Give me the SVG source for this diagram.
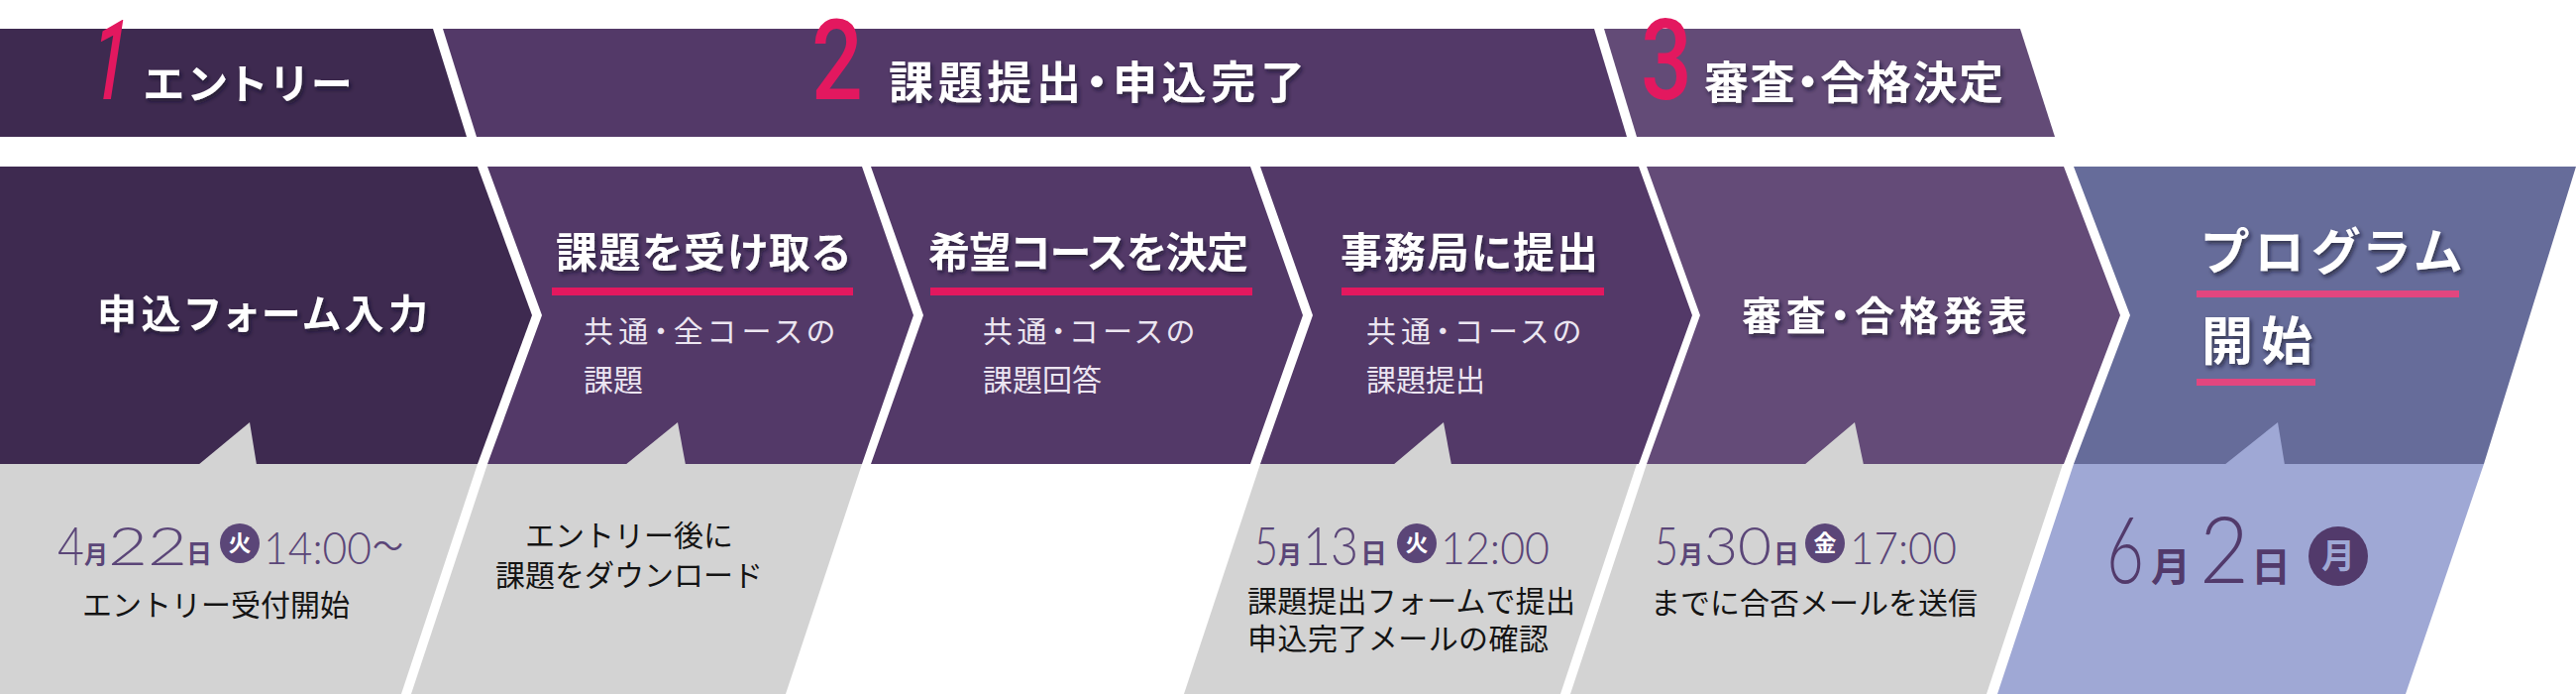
<svg xmlns="http://www.w3.org/2000/svg" width="2600" height="700" viewBox="0 0 2600 700">
<defs>
<style>
.jp{font-family:"Noto Sans CJK JP","Noto Sans",sans-serif}
.h{font-family:"Noto Sans CJK JP","Noto Sans",sans-serif;font-weight:700;fill:#ffffff;filter:url(#sh);font-feature-settings:"palt"}
.num{font-family:Roboto,"Liberation Sans",sans-serif;font-weight:500;fill:#e3185f}
.sub{font-family:"Noto Sans CJK JP","Noto Sans",sans-serif;font-weight:400;font-size:30px;fill:#ece6f1;font-feature-settings:"palt"}
.blk{font-family:"Noto Sans CJK JP","Noto Sans",sans-serif;font-weight:400;font-size:30px;fill:#141414}
.d{font-family:Lato,"Open Sans",sans-serif;font-weight:300}
.dk{font-family:"Noto Sans CJK JP","Noto Sans",sans-serif;font-weight:700}
.wk{font-family:"Noto Sans CJK JP","Noto Sans",sans-serif;font-weight:700}
.ul{fill:#e3185f}
.ul2{fill:#e2467f}
.gray{fill:#d3d3d3}
.lb{fill:#9fa8d5}
</style>
<filter id="sh" x="-10%" y="-30%" width="120%" height="170%">
<feDropShadow dx="2" dy="3" stdDeviation="2" flood-color="#160c22" flood-opacity="0.65"/>
</filter>
</defs>
<rect width="2600" height="700" fill="#ffffff"/>

<g id="phase1">
<polygon points="0,29 437,29 471,138 0,138" fill="#3e2a50"/>
<text class="num" transform="translate(106,100) scale(0.58,1) skewX(-15)" font-size="112" font-weight="700" text-anchor="middle">1</text>
<text class="h" x="145" y="100" font-size="42" textLength="210" lengthAdjust="spacing">エントリー</text>
</g>
<g id="phase2">
<polygon points="447,29 1609,29 1642,138 481,138" fill="#533968"/>
<text class="num" transform="translate(845,100) scale(0.8,1)" font-size="114" text-anchor="middle">2</text>
<text class="h" x="897" y="100" font-size="45" textLength="420" lengthAdjust="spacing">課題提出・申込完了</text>
</g>
<g id="phase3">
<polygon points="1619,29 2039,29 2074,138 1652,138" fill="#634b77"/>
<text class="num" transform="translate(1682,100) scale(0.8,1)" font-size="114" text-anchor="middle">3</text>
<text class="h" x="1720" y="100" font-size="45" textLength="302" lengthAdjust="spacing">審査・合格決定</text>
</g>

<g id="connectors">
<polygon class="gray" points="0,468 482,468 405,700 0,700"/>
<polygon class="gray" points="492,468 870,468 793,700 415,700"/>
<polygon class="gray" points="1272,468 1652,468 1575,700 1195,700"/>
<polygon class="gray" points="1662,468 2082,468 2005,700 1585,700"/>
<polygon class="lb" points="2093,468 2507,468 2428,700 2016,700"/>
</g>

<g id="step1">
<polygon points="0,168 482,168 537,318 482,468 0,468" fill="#3e2a50"/>
<polygon class="gray" points="200,469 252,426 259,469"/>
<text class="h" x="98" y="331" font-size="40" textLength="334" lengthAdjust="spacing">申込フォーム入力</text>
<text class="d" x="58" y="570" font-size="53" fill="#5b4678" textLength="27" lengthAdjust="spacingAndGlyphs">4</text>
<text class="dk" x="85" y="568" font-size="24" fill="#5b4678">月</text>
<text class="d" x="109" y="570" font-size="53" fill="#5b4678" textLength="80" lengthAdjust="spacingAndGlyphs">22</text>
<text class="dk" x="188" y="568" font-size="26" fill="#5b4678">日</text>
<circle cx="242" cy="548" r="20" fill="#5b4678"/>
<text class="wk" x="242" y="556" font-size="23" fill="#ffffff" text-anchor="middle">火</text>
<text class="d" x="266" y="569" font-size="46" fill="#5b4678" textLength="109" lengthAdjust="spacingAndGlyphs">14:00</text>
<text class="jp" x="376" y="562" font-size="31" fill="#5b4678">〜</text>
<text class="blk" x="218" y="621" text-anchor="middle">エントリー受付開始</text>
</g>

<g id="step2">
<polygon points="492,168 870,168 922,318 870,468 492,468 547,318" fill="#533968"/>
<polygon class="gray" points="631,469 684,426 692,469"/>
<text class="h" x="561" y="270" font-size="42" textLength="297" lengthAdjust="spacing">課題を受け取る</text>
<rect class="ul" x="557" y="290" width="304" height="8"/>
<text class="sub" x="589" y="345" textLength="254" lengthAdjust="spacing">共通・全コースの</text>
<text class="sub" x="589" y="394">課題</text>
<text class="blk" x="635" y="551" text-anchor="middle">エントリー後に</text>
<text class="blk" x="635" y="591" text-anchor="middle">課題をダウンロード</text>
</g>

<g id="step3">
<polygon points="879,168 1262,168 1315,318 1262,468 879,468 932,318" fill="#533968"/>
<text class="h" x="937" y="270" font-size="42" textLength="323" lengthAdjust="spacing">希望コースを決定</text>
<rect class="ul" x="939" y="290" width="325" height="8"/>
<text class="sub" x="992" y="345" textLength="214" lengthAdjust="spacing">共通・コースの</text>
<text class="sub" x="992" y="394">課題回答</text>
</g>

<g id="step4">
<polygon points="1272,168 1654,168 1708,318 1654,468 1272,468 1325,318" fill="#533968"/>
<polygon class="gray" points="1406,469 1457,426 1465,469"/>
<text class="h" x="1353" y="270" font-size="42" textLength="260" lengthAdjust="spacing">事務局に提出</text>
<rect class="ul" x="1354" y="290" width="265" height="8"/>
<text class="sub" x="1379" y="345" textLength="217" lengthAdjust="spacing">共通・コースの</text>
<text class="sub" x="1379" y="394">課題提出</text>
<text class="d" x="1266" y="570" font-size="53" fill="#5b4678" textLength="24" lengthAdjust="spacingAndGlyphs">5</text>
<text class="dk" x="1290" y="568" font-size="24" fill="#5b4678">月</text>
<text class="d" x="1315" y="570" font-size="53" fill="#5b4678" textLength="56" lengthAdjust="spacingAndGlyphs">13</text>
<text class="dk" x="1373" y="568" font-size="27" fill="#5b4678">日</text>
<circle cx="1430" cy="548" r="20" fill="#5b4678"/>
<text class="wk" x="1430" y="556" font-size="23" fill="#ffffff" text-anchor="middle">火</text>
<text class="d" x="1454" y="569" font-size="46" fill="#5b4678" textLength="110" lengthAdjust="spacingAndGlyphs">12:00</text>
<text class="blk" x="1259" y="617" textLength="331" lengthAdjust="spacing">課題提出フォームで提出</text>
<text class="blk" x="1259" y="655" textLength="304" lengthAdjust="spacing">申込完了メールの確認</text>
</g>

<g id="step5">
<polygon points="1662,168 2083,168 2140,318 2083,468 1662,468 1716,318" fill="#644b78"/>
<polygon class="gray" points="1821,469 1872,426 1881,469"/>
<text class="h" x="1758" y="333" font-size="40" textLength="288" lengthAdjust="spacing">審査・合格発表</text>
<text class="d" x="1670" y="570" font-size="53" fill="#5b4678" textLength="24" lengthAdjust="spacingAndGlyphs">5</text>
<text class="dk" x="1695" y="568" font-size="24" fill="#5b4678">月</text>
<text class="d" x="1720" y="570" font-size="53" fill="#5b4678" textLength="68" lengthAdjust="spacingAndGlyphs">30</text>
<text class="dk" x="1790" y="568" font-size="26" fill="#5b4678">日</text>
<circle cx="1842" cy="548" r="20" fill="#5b4678"/>
<text class="wk" x="1842" y="556" font-size="23" fill="#ffffff" text-anchor="middle">金</text>
<text class="d" x="1867" y="569" font-size="46" fill="#5b4678" textLength="108" lengthAdjust="spacingAndGlyphs">17:00</text>
<text class="blk" x="1666" y="619" textLength="330" lengthAdjust="spacing">までに合否メールを送信</text>
</g>

<g id="step6">
<polygon points="2093,168 2600,168 2507,468 2093,468 2150,318" fill="#666c9a"/>
<polygon class="lb" points="2245,469 2299,426 2306,469"/>
<text class="h" x="2222" y="272" font-size="50" textLength="262" lengthAdjust="spacing">プログラム</text>
<rect class="ul2" x="2217" y="293" width="265" height="7"/>
<text class="h" x="2222" y="363" font-size="52" textLength="112" lengthAdjust="spacing">開始</text>
<rect class="ul2" x="2217" y="382" width="120" height="7"/>
<text class="d" x="2126" y="588" font-size="92" fill="#523a6b" textLength="38" lengthAdjust="spacingAndGlyphs">6</text>
<text class="dk" x="2171" y="586" font-size="40" fill="#523a6b">月</text>
<text class="d" x="2220" y="588" font-size="92" fill="#523a6b" textLength="50" lengthAdjust="spacingAndGlyphs">2</text>
<text class="dk" x="2272" y="586" font-size="40" fill="#523a6b">日</text>
<circle cx="2360" cy="561" r="30" fill="#523a6b"/>
<text class="wk" x="2360" y="573" font-size="34" fill="#9fa8d5" text-anchor="middle">月</text>
</g>
</svg>
